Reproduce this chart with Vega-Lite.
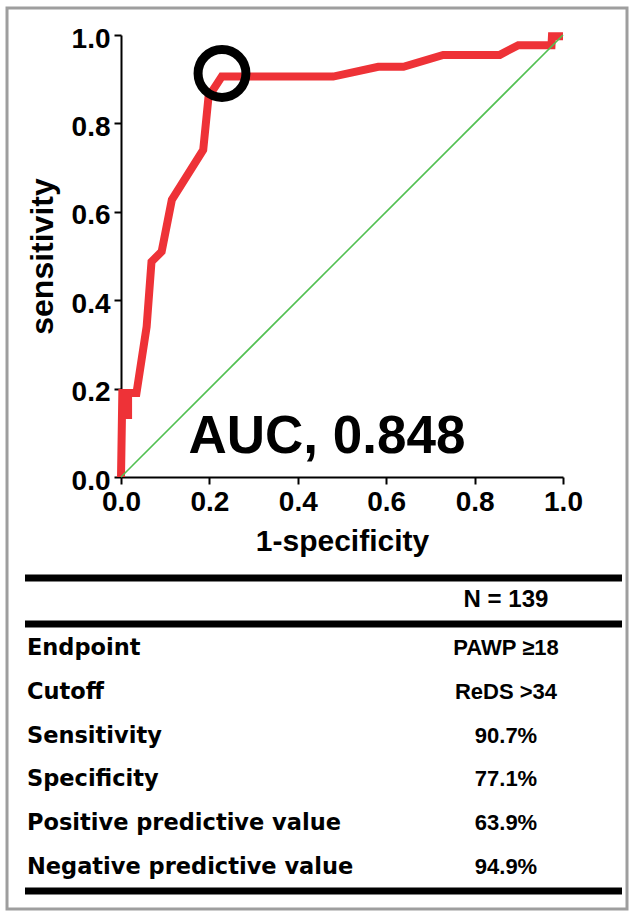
{
  "$schema": "https://vega.github.io/schema/vega-lite/v6.json",
  "width": 442,
  "height": 442,
  "autosize": {"type": "none"},
  "padding": {"left": 121, "top": 35, "right": 71, "bottom": 436},
  "background": "white",
  "config": {
    "view": {"stroke": null},
    "font": "Liberation Sans",
    "axis": {
      "domainColor": "black",
      "domainWidth": 2,
      "tickColor": "black",
      "tickWidth": 2,
      "tickSize": 7,
      "grid": false,
      "labelFont": "Liberation Sans",
      "labelFontWeight": "bold",
      "labelFontSize": 28,
      "labelColor": "black",
      "labelPadding": 4,
      "titleFont": "Liberation Sans",
      "titleFontWeight": "bold",
      "titleFontSize": 28,
      "titleColor": "black"
    }
  },
  "datasets": {
    "roc": [
      {"x": 0, "y": 0},
      {"x": 0.003, "y": 0.19},
      {"x": 0.013, "y": 0.19},
      {"x": 0.013, "y": 0.14},
      {"x": 0.016, "y": 0.14},
      {"x": 0.016, "y": 0.19},
      {"x": 0.035, "y": 0.19},
      {"x": 0.058, "y": 0.34},
      {"x": 0.069, "y": 0.487},
      {"x": 0.092, "y": 0.51},
      {"x": 0.115, "y": 0.627},
      {"x": 0.186, "y": 0.74},
      {"x": 0.198, "y": 0.86},
      {"x": 0.228, "y": 0.906},
      {"x": 0.48, "y": 0.906},
      {"x": 0.582, "y": 0.928},
      {"x": 0.639, "y": 0.928},
      {"x": 0.729, "y": 0.955},
      {"x": 0.857, "y": 0.955},
      {"x": 0.899, "y": 0.977},
      {"x": 0.974, "y": 0.977},
      {"x": 0.975, "y": 0.997},
      {"x": 1, "y": 0.997}
    ],
    "cutoff": [{"x": 0.2285, "y": 0.913}],
    "one": [{}],
    "table": [
      {"label": "Endpoint", "value": "PAWP ≥18"},
      {"label": "Cutoff", "value": "ReDS >34"},
      {"label": "Sensitivity", "value": "90.7%"},
      {"label": "Specificity", "value": "77.1%"},
      {"label": "Positive predictive value", "value": "63.9%"},
      {"label": "Negative predictive value", "value": "94.9%"}
    ]
  },
  "layer": [
    {
      "layer": [
        {
          "data": {"name": "roc"},
          "mark": {"type": "line", "color": "#ee3237", "strokeWidth": 8, "strokeJoin": "miter"},
          "encoding": {
            "x": {"field": "x", "type": "quantitative", "scale": {"domain": [0, 1], "nice": false, "zero": false},
              "axis": {"values": [0, 0.2, 0.4, 0.6, 0.8, 1], "format": ".1f", "title": "1-specificity", "labelFlush": false, "titlePadding": 10, "titleFontSize": 30}},
            "y": {"field": "y", "type": "quantitative", "scale": {"domain": [0, 1], "nice": false, "zero": false},
              "axis": {"values": [0, 0.2, 0.4, 0.6, 0.8, 1], "format": ".1f", "title": "sensitivity", "labelOffset": 4, "titlePadding": 12, "titleFontSize": 32}}
          }
        },
        {
          "data": {"name": "one"},
          "mark": {"type": "rule", "color": "#52c052", "strokeWidth": 1.6},
          "encoding": {
            "x": {"datum": 0, "type": "quantitative", "scale": {"domain": [0, 1]}},
            "y": {"datum": 0, "type": "quantitative", "scale": {"domain": [0, 1]}},
            "x2": {"datum": 1},
            "y2": {"datum": 1}
          }
        },
        {
          "data": {"name": "cutoff"},
          "mark": {"type": "point", "shape": "circle", "filled": false, "stroke": "black", "strokeWidth": 9, "size": 2290, "opacity": 1},
          "encoding": {
            "x": {"field": "x", "type": "quantitative", "scale": {"domain": [0, 1]}},
            "y": {"field": "y", "type": "quantitative", "scale": {"domain": [0, 1]}}
          }
        },
        {
          "data": {"name": "one"},
          "mark": {"type": "text", "text": "AUC, 0.848", "font": "Liberation Sans", "fontWeight": "bold", "fontSize": 53, "align": "center", "baseline": "alphabetic", "color": "black"},
          "encoding": {
            "x": {"datum": 0.466, "type": "quantitative", "scale": {"domain": [0, 1]}},
            "y": {"datum": 0.0543, "type": "quantitative", "scale": {"domain": [0, 1]}}
          }
        },
        {
          "data": {"name": "one"},
          "mark": {"type": "text", "text": "N = 139", "font": "Liberation Sans", "fontWeight": "bold", "fontSize": 24, "align": "center", "baseline": "middle", "color": "black"},
          "encoding": {
            "x": {"datum": 0.871, "type": "quantitative", "scale": {"domain": [0, 1]}},
            "y": {"datum": -0.2783, "type": "quantitative", "scale": {"domain": [0, 1]}}
          }
        },
        {
          "data": {"name": "one"},
          "mark": {"type": "rule", "color": "black", "strokeWidth": 7},
          "encoding": {
            "x": {"datum": -0.2172, "type": "quantitative", "scale": {"domain": [0, 1]}},
            "x2": {"datum": 1.1335},
            "y": {"datum": -0.2285, "type": "quantitative", "scale": {"domain": [0, 1]}}
          }
        },
        {
          "data": {"name": "one"},
          "mark": {"type": "rule", "color": "black", "strokeWidth": 7},
          "encoding": {
            "x": {"datum": -0.2172, "type": "quantitative", "scale": {"domain": [0, 1]}},
            "x2": {"datum": 1.1335},
            "y": {"datum": -0.3326, "type": "quantitative", "scale": {"domain": [0, 1]}}
          }
        },
        {
          "data": {"name": "one"},
          "mark": {"type": "rule", "color": "black", "strokeWidth": 7},
          "encoding": {
            "x": {"datum": -0.2172, "type": "quantitative", "scale": {"domain": [0, 1]}},
            "x2": {"datum": 1.1335},
            "y": {"datum": -0.9367, "type": "quantitative", "scale": {"domain": [0, 1]}}
          }
        },
        {
          "data": {"name": "one"},
          "mark": {"type": "rect", "fill": "transparent", "stroke": "#9e9e9e", "strokeWidth": 3},
          "encoding": {
            "x": {"datum": -0.2579, "type": "quantitative", "scale": {"domain": [0, 1]}},
            "x2": {"datum": 1.1448},
            "y": {"datum": 1.0611, "type": "quantitative", "scale": {"domain": [0, 1]}},
            "y2": {"datum": -0.9774}
          }
        }
      ]
    },
    {
      "data": {"name": "table"},
      "encoding": {
        "y": {"field": "label", "type": "nominal", "sort": null, "scale": {"type": "point", "range": [613, 832], "padding": 0}, "axis": null}
      },
      "layer": [
        {
          "mark": {"type": "text", "font": "DejaVu Sans", "fontWeight": "bold", "fontSize": 22.5, "align": "left", "baseline": "middle", "color": "black"},
          "encoding": {
            "x": {"datum": -0.2127, "type": "quantitative", "scale": {"domain": [0, 1]}},
            "text": {"field": "label"}
          }
        },
        {
          "mark": {"type": "text", "font": "Liberation Sans", "fontWeight": "bold", "fontSize": 22, "align": "center", "baseline": "middle", "color": "black"},
          "encoding": {
            "x": {"datum": 0.871, "type": "quantitative", "scale": {"domain": [0, 1]}},
            "text": {"field": "value"}
          }
        }
      ]
    }
  ],
  "resolve": {"scale": {"y": "independent"}}
}
